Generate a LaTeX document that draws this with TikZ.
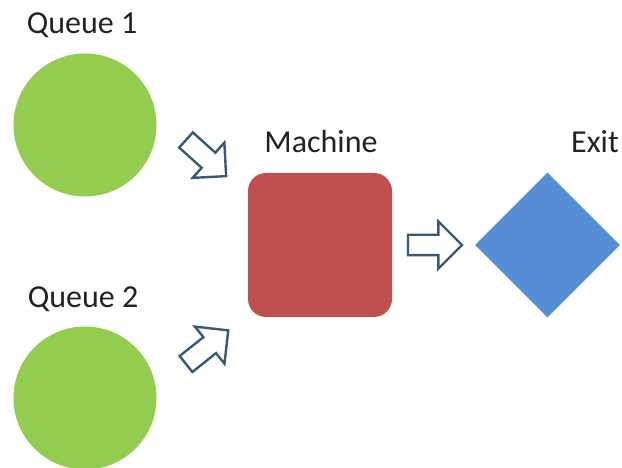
\documentclass[tikz,border=0pt]{standalone}
\usepackage{fontspec}
\setmainfont{Carlito}
\usetikzlibrary{shapes.geometric,shapes.arrows}
\definecolor{qgreen}{HTML}{92CD50}
\definecolor{mred}{HTML}{C0504D}
\definecolor{eblue}{HTML}{558ED5}
\definecolor{aline}{HTML}{3A5878}
\definecolor{txt}{HTML}{222222}
\tikzset{
  queue/.style={circle, fill=qgreen, draw=none, minimum size=143pt, inner sep=0},
  machinebox/.style={rectangle, rounded corners=18pt, fill=mred, draw=none, minimum size=144pt, inner sep=0},
  exitshape/.style={diamond, fill=eblue, draw=none, minimum size=145pt, inner sep=0},
  lbl/.style={font=\fontsize{32}{36}\selectfont, text=txt, anchor=base, inner sep=0},
  blockarr/.style={single arrow, draw=aline, fill=white, line width=2.4pt,
    minimum height=54pt, inner xsep=0pt, inner ysep=9pt, text height=0pt, text depth=0pt,
    single arrow head extend=13.5pt, outer sep=0, anchor=tail}
}
\begin{document}
\begin{tikzpicture}[x=1pt,y=-1pt]
\useasboundingbox (0,0) rectangle (622,468);
\node[queue] (q1) at (85,125) {};
\node[queue] (q2) at (85,398) {};
\node[machinebox] (m) at (320,245) {};
\node[exitshape] (e) at (547.5,245) {};
\node[lbl] (lq1) at (82,34) {Queue 1};
\node[lbl] (lq2) at (83,308) {Queue 2};
\node[lbl] (lm) at (321,153) {Machine};
\node[lbl] (le) at (595,153) {Exit};
\node[blockarr, rotate=-42] (a1) at (186,140) {};
\node[blockarr, rotate=38.5] (a2) at (186,364) {};
\node[blockarr] (a3) at (408,245) {};
\end{tikzpicture}
\end{document}
